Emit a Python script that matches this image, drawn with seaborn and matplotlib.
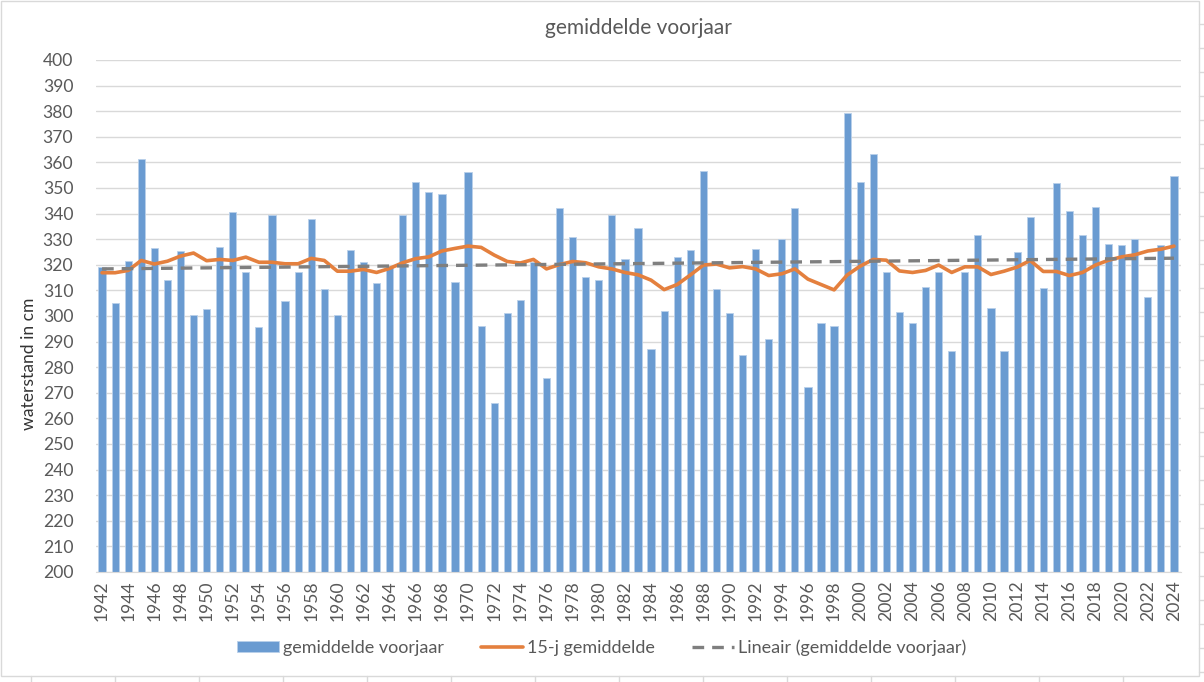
import numpy as np
import pandas as pd
import matplotlib
matplotlib.use("Agg")
import matplotlib.pyplot as plt
import seaborn as sns
from matplotlib.patches import Rectangle
from matplotlib.lines import Line2D

# spring average water level per year (cm)
years = list(range(1942, 2025))
voorjaar = [
    319.2, 305.1, 321.6, 361.2, 326.7, 314.1, 325.2, 300.4, 302.7, 327.1,
    340.8, 317.3, 295.7, 339.6, 305.9, 317.3, 338.0, 310.6, 300.4, 325.9,
    321.2, 312.9, 319.5, 339.6, 352.5, 348.6, 347.5, 313.3, 356.1, 296.1,
    266.0, 301.2, 306.3, 321.2, 275.7, 342.0, 331.0, 315.3, 314.1, 339.6,
    322.4, 334.5, 287.2, 302.0, 323.1, 325.9, 356.5, 310.6, 301.2, 284.7,
    326.3, 291.0, 330.2, 342.0, 272.2, 297.3, 296.1, 379.2, 352.5, 363.4,
    317.3, 301.6, 297.3, 311.4, 317.3, 286.2, 317.3, 331.8, 303.1, 286.2,
    325.1, 338.8, 311.0, 351.8, 341.0, 331.8, 342.7, 328.2, 327.8, 330.0,
    307.5, 327.8, 354.5,
]
# 15-year moving average as drawn in the chart
gem_15j = [
    316.9, 316.9, 317.8, 321.7, 320.3, 321.4, 323.4, 324.6, 321.6, 322.1,
    321.7, 323.0, 321.0, 321.0, 320.4, 320.4, 322.5, 321.7, 317.5, 317.5,
    318.2, 317.0, 318.6, 320.8, 322.4, 323.1, 325.4, 326.4, 327.3, 326.8,
    323.8, 321.3, 320.7, 322.1, 318.4, 320.1, 321.3, 320.8, 319.2, 318.4,
    317.0, 316.1, 314.0, 310.3, 312.3, 316.0, 319.9, 320.3, 318.8, 319.3,
    318.4, 315.8, 316.5, 318.4, 314.4, 312.3, 310.2, 316.0, 319.5, 322.1,
    321.8, 317.6, 317.0, 317.8, 319.9, 317.0, 319.2, 319.2, 316.2, 317.5,
    319.1, 321.7, 317.4, 317.4, 315.8, 317.0, 319.9, 321.8, 323.1, 323.9,
    325.4, 326.1, 327.3,
]

df = pd.DataFrame({"jaar": years, "voorjaar": voorjaar, "gem15": gem_15j})
coef = np.polyfit(df["jaar"], df["voorjaar"], 1)
df["trend"] = np.polyval(coef, df["jaar"])

sns.set_style("white")
plt.rcParams["font.family"] = ["Lato", "DejaVu Sans"]
txt = "#595959"

fig = plt.figure(figsize=(12.04, 6.82), dpi=100)
ax = fig.add_axes([95.5 / 1204, 110 / 682, 1085 / 1204, 512 / 682])

sns.barplot(data=df, x="jaar", y="voorjaar", native_scale=True, width=0.55,
            color="#6A9BD1", saturation=1, edgecolor="#B9D0EA", linewidth=0.6,
            ax=ax, label="gemiddelde voorjaar", zorder=2)
sns.lineplot(data=df, x="jaar", y="gem15", color="#E4803E", linewidth=2.6,
             ax=ax, label="15-j gemiddelde", zorder=3)
sns.lineplot(data=df, x="jaar", y="trend", color="#7F7F7F", linewidth=2.4,
             dashes=(3.5, 2.4), ax=ax, label="Lineair (gemiddelde voorjaar)",
             zorder=4)

ax.set_xlim(1941.5, 2024.5)
ax.set_ylim(200, 400)
ax.set_yticks(range(200, 401, 10))
ax.set_xticks(range(1942, 2025, 2))
ax.set_xticklabels([str(y) for y in range(1942, 2025, 2)], rotation=90)
ax.grid(axis="y", color="#D9D9D9", linewidth=1, zorder=0)
ax.set_axisbelow(True)
for s in ["top", "right", "left"]:
    ax.spines[s].set_visible(False)
ax.spines["bottom"].set_color("#D9D9D9")
ax.tick_params(axis="both", length=0, labelsize=12.6, colors=txt)
ax.tick_params(axis="y", pad=16)
ax.tick_params(axis="x", pad=6)

ax.set_xlabel("")
ax.set_ylabel("waterstand in cm", fontsize=12.6, color="#333333")
ax.yaxis.set_label_coords(-0.054, 0.406)
ax.set_title("gemiddelde voorjaar", fontsize=15, color=txt, pad=19)

# legend in the same order as the reference: bars, moving average, trend
h, l = ax.get_legend_handles_labels()
order = [l.index("gemiddelde voorjaar"), l.index("15-j gemiddelde"),
         l.index("Lineair (gemiddelde voorjaar)")]
ax.legend([h[i] for i in order], [l[i] for i in order], loc="center",
          bbox_to_anchor=((602 - 95.5) / 1085, (682 - 648 - 110) / 512),
          ncol=3, frameon=False, fontsize=13, labelcolor=txt,
          handlelength=2.3, handleheight=0.55, handletextpad=0.25,
          columnspacing=2.05)

# chart area border and spreadsheet cell ticks
W, H = 1204, 682
fig.add_artist(Rectangle((1 / W, 1 - 676 / H), 1198 / W, 675 / H,
                         transform=fig.transFigure, fill=False,
                         edgecolor="#D9D9D9", linewidth=1))
for x in range(31, 1199, 84):
    fig.add_artist(Line2D([x / W, x / W], [0, 1 - 676 / H],
                          transform=fig.transFigure, color="#D9D9D9", lw=1))
for y in range(24, 676, 24):
    fig.add_artist(Line2D([1199 / W, 1], [1 - y / H, 1 - y / H],
                          transform=fig.transFigure, color="#D9D9D9", lw=1))

fig.savefig("out.png", dpi=100)
